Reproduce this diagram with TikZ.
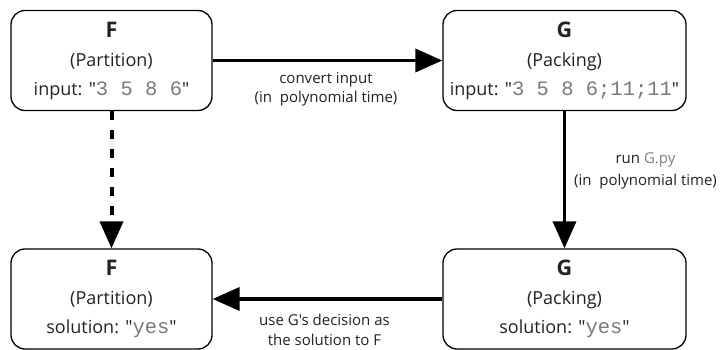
\documentclass[tikz,border=0pt]{standalone}
\usepackage{fontspec}
\setmainfont{Open Sans}
\newfontfamily\osans{Open Sans}
\newfontfamily\monof{Liberation Mono}
\usetikzlibrary{arrows.meta}
\definecolor{txt}{HTML}{222222}
\definecolor{monogray}{HTML}{7A7A7A}
\newcommand\mt[1]{{\monof\fontsize{20.5}{29}\selectfont\color{monogray}#1}}
\newcommand\ttl[1]{{\fontsize{21.5}{21.5}\selectfont\bfseries #1}}
\begin{document}
\begin{tikzpicture}[x=1pt,y=-1pt,
  box/.style={draw=black, line width=1.3pt, rounded corners=14pt, align=center,
    text=txt, font=\osans\fontsize{18}{29}\selectfont, inner sep=0pt},
  topbox/.style={box, minimum height=100pt},
  arr/.style={line width=3.6pt, -{Triangle[length=27pt,width=23pt]}},
  darr/.style={arr, line width=4pt, dash pattern=on 9pt off 10pt},
  lbl/.style={align=center, text=txt, inner sep=0pt}]
\useasboundingbox (0,0) rectangle (721,350);
\node[topbox, minimum width=201pt] (F1) at (111.5,60.5)
  {\ttl{F}\\(Partition)\\input: "\mt{3 5 8 6}"};
\node[topbox, minimum width=243pt] (G1) at (564.5,60.5)
  {\ttl{G}\\(Packing)\\input: "\mt{3 5 8 6;11;11}"};
\node[topbox, minimum width=201pt] (F2) at (111.5,299)
  {\ttl{F}\\(Partition)\\solution: "\mt{yes}"};
\node[topbox, minimum width=243pt] (G2) at (564.5,299)
  {\ttl{G}\\(Packing)\\solution: "\mt{yes}"};
\draw[arr] (F1.east) -- (G1.west);
\draw[arr] (G1.south) -- (G2.north);
\draw[arr] (G2.west) -- (F2.east);
\draw[darr] (F1.south) -- (F2.north);
\node[lbl, font=\osans\fontsize{15}{19}\selectfont] (L1) at (326,89)
  {convert input\\(in\ \ polynomial time)};
\node[lbl, font=\osans\fontsize{15}{22}\selectfont] (L2) at (645.5,171)
  {run {\color{gray}G.py}\\(in\ \ polynomial time)};
\node[lbl, font=\osans\fontsize{15}{20}\selectfont] (L3) at (324.5,330)
  {use G's decision as\\the solution to F};
\end{tikzpicture}
\end{document}
